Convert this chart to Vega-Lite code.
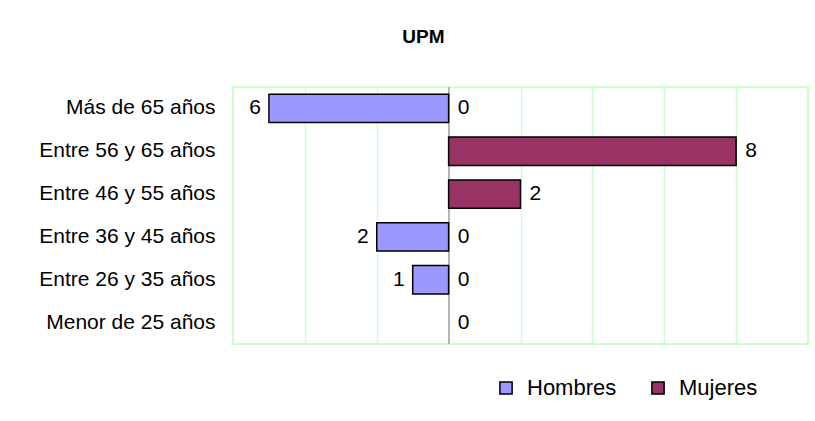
{
  "$schema": "https://vega.github.io/schema/vega-lite/v6.json",
  "autosize": {"type": "none"},
  "width": 575,
  "height": 257,
  "padding": {"left": 233, "top": 87, "right": 7, "bottom": 77},
  "background": "white",
  "title": {
    "text": "UPM",
    "fontSize": 19,
    "fontWeight": "bold",
    "font": "Liberation Sans",
    "color": "black",
    "anchor": "middle",
    "frame": "bounds",
    "offset": 40
  },
  "config": {
    "font": "Liberation Sans",
    "view": {"stroke": "#ccffcc", "strokeWidth": 2},
    "legend": {
      "symbolStrokeColor": "black",
      "symbolStrokeWidth": 1.5
    }
  },
  "data": {
    "values": [
      {"edad": "Más de 65 años", "sexo": "Hombres", "valor": -5, "etiqueta": "6"},
      {"edad": "Más de 65 años", "sexo": "Mujeres", "valor": 0, "etiqueta": "0"},
      {"edad": "Entre 56 y 65 años", "sexo": "Mujeres", "valor": 8, "etiqueta": "8"},
      {"edad": "Entre 46 y 55 años", "sexo": "Mujeres", "valor": 2, "etiqueta": "2"},
      {"edad": "Entre 36 y 45 años", "sexo": "Hombres", "valor": -2, "etiqueta": "2"},
      {"edad": "Entre 36 y 45 años", "sexo": "Mujeres", "valor": 0, "etiqueta": "0"},
      {"edad": "Entre 26 y 35 años", "sexo": "Hombres", "valor": -1, "etiqueta": "1"},
      {"edad": "Entre 26 y 35 años", "sexo": "Mujeres", "valor": 0, "etiqueta": "0"},
      {"edad": "Menor de 25 años", "sexo": "Mujeres", "valor": 0, "etiqueta": "0"}
    ]
  },
  "encoding": {
    "y": {
      "field": "edad",
      "type": "nominal",
      "title": null,
      "scale": {
        "domain": ["Más de 65 años", "Entre 56 y 65 años", "Entre 46 y 55 años", "Entre 36 y 45 años", "Entre 26 y 35 años", "Menor de 25 años"],
        "paddingInner": 0.34,
        "paddingOuter": 0.17
      },
      "axis": {
        "domain": false,
        "ticks": false,
        "labelFontSize": 21,
        "labelColor": "black",
        "labelPadding": 18,
        "labelFont": "Liberation Sans"
      }
    }
  },
  "layer": [
    {
      "mark": {"type": "rule", "color": "#b0b0b0", "strokeWidth": 1},
      "encoding": {"x": {"datum": 0, "type": "quantitative"}, "y": null}
    },
    {
      "transform": [{"filter": "datum.valor != 0"}],
      "mark": {"type": "bar", "stroke": "black", "strokeWidth": 1.5},
      "encoding": {
        "x": {
          "field": "valor",
          "type": "quantitative",
          "title": null,
          "scale": {"domain": [-6, 10], "nice": false, "zero": false},
          "axis": {
            "values": [-6, -4, -2, 0, 2, 4, 6, 8, 10],
            "labels": false,
            "ticks": false,
            "domain": false,
            "grid": true,
            "gridColor": "#ccffcc",
            "gridWidth": 1.5,
            "gridOpacity": 1
          }
        },
        "fill": {
          "field": "sexo",
          "type": "nominal",
          "scale": {"domain": ["Hombres", "Mujeres"], "range": ["#9999FF", "#993366"]},
          "legend": {
            "title": null,
            "orient": "none",
            "direction": "horizontal",
            "legendX": 262,
            "legendY": 290,
            "symbolType": "square",
            "symbolSize": 150,
            "symbolOpacity": 1,
            "labelFontSize": 22,
            "labelColor": "black",
            "labelFont": "Liberation Sans",
            "labelOffset": 10,
            "columnPadding": 30
          }
        }
      }
    },
    {
      "transform": [{"filter": "datum.sexo == 'Hombres'"}],
      "mark": {"type": "text", "align": "right", "baseline": "middle", "dx": -8, "fontSize": 21, "color": "black"},
      "encoding": {
        "x": {"field": "valor", "type": "quantitative"},
        "text": {"field": "etiqueta"}
      }
    },
    {
      "transform": [{"filter": "datum.sexo == 'Mujeres'"}],
      "mark": {"type": "text", "align": "left", "baseline": "middle", "dx": 9, "fontSize": 21, "color": "black"},
      "encoding": {
        "x": {"field": "valor", "type": "quantitative"},
        "text": {"field": "etiqueta"}
      }
    }
  ]
}
